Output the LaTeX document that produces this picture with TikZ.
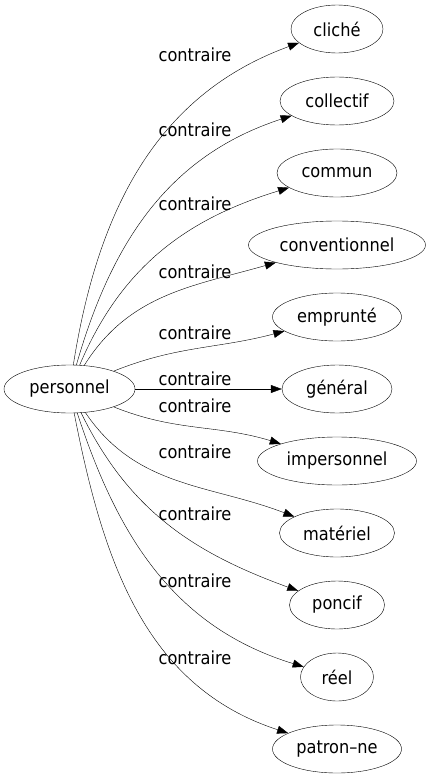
\documentclass[tikz,border=0pt]{standalone}
\usepackage{fontspec}
\setmainfont{DejaVu Sans Condensed}
\usetikzlibrary{shapes.geometric,arrows.meta}

\begin{document}
\begin{tikzpicture}[x=1pt,y=1pt,
    font=\fontsize{18}{21}\selectfont,
    word/.style={draw,ellipse,inner sep=0pt,minimum height=48pt},
    rel/.style={-{Triangle[length=11pt,width=8pt]}},
    lab/.style={inner sep=0pt}]
    \useasboundingbox (0,0) rectangle (430,-779);

    % source word
    \node[word,minimum width=131pt] (personnel) at (69.5,-389) {personnel};

    % opposite words
    \node[word,minimum width=92pt] (cliche) at (337,-29) {cliché};
    \node[word,minimum width=114pt] (collectif) at (337,-101) {collectif};
    \node[word,minimum width=120pt] (commun) at (337,-173) {commun};
    \node[word,minimum width=177pt] (conventionnel) at (337,-245) {conventionnel};
    \node[word,minimum width=129pt] (emprunte) at (337,-317) {emprunté};
    \node[word,minimum width=110pt] (general) at (337,-389) {général};
    \node[word,minimum width=159pt] (impersonnel) at (337,-461) {impersonnel};
    \node[word,minimum width=115pt] (materiel) at (337,-533) {matériel};
    \node[word,minimum width=95pt] (poncif) at (337,-605) {poncif};
    \node[word,minimum width=73pt] (reel) at (337,-677) {réel};
    \node[word,minimum width=129pt] (patronne) at (337,-749) {patron--ne};

    % edge labels
    \node[lab] (l1) at (195,-55) {contraire};
    \node[lab] (l2) at (195,-130) {contraire};
    \node[lab] (l3) at (195,-204) {contraire};
    \node[lab] (l4) at (195,-272) {contraire};
    \node[lab] (l5) at (195,-333) {contraire};
    \node[lab] (l6) at (195,-379) {contraire};
    \node[lab] (l7) at (195,-406) {contraire};
    \node[lab] (l8) at (195,-452) {contraire};
    \node[lab] (l9) at (195,-514) {contraire};
    \node[lab] (l10) at (195,-581) {contraire};
    \node[lab] (l11) at (195,-658) {contraire};

    % edges
    \draw[rel] (personnel) to[out=81,in=200] (cliche);
    \draw[rel] (personnel) to[out=74,in=198] (collectif);
    \draw[rel] (personnel) to[out=67,in=197] (commun);
    \draw[rel] (personnel) to[out=58,in=196] (conventionnel);
    \draw[rel] (personnel) to[out=22,in=195] (emprunte);
    \draw[rel] (personnel) -- (general);
    \draw[rel] (personnel) to[out=-22,in=163] (impersonnel);
    \draw[rel] (personnel) to[out=-56,in=159] (materiel);
    \draw[rel] (personnel) to[out=-64,in=160] (poncif);
    \draw[rel] (personnel) to[out=-72,in=163] (reel);
    \draw[rel] (personnel) to[out=-79,in=162] (patronne);
\end{tikzpicture}
\end{document}
